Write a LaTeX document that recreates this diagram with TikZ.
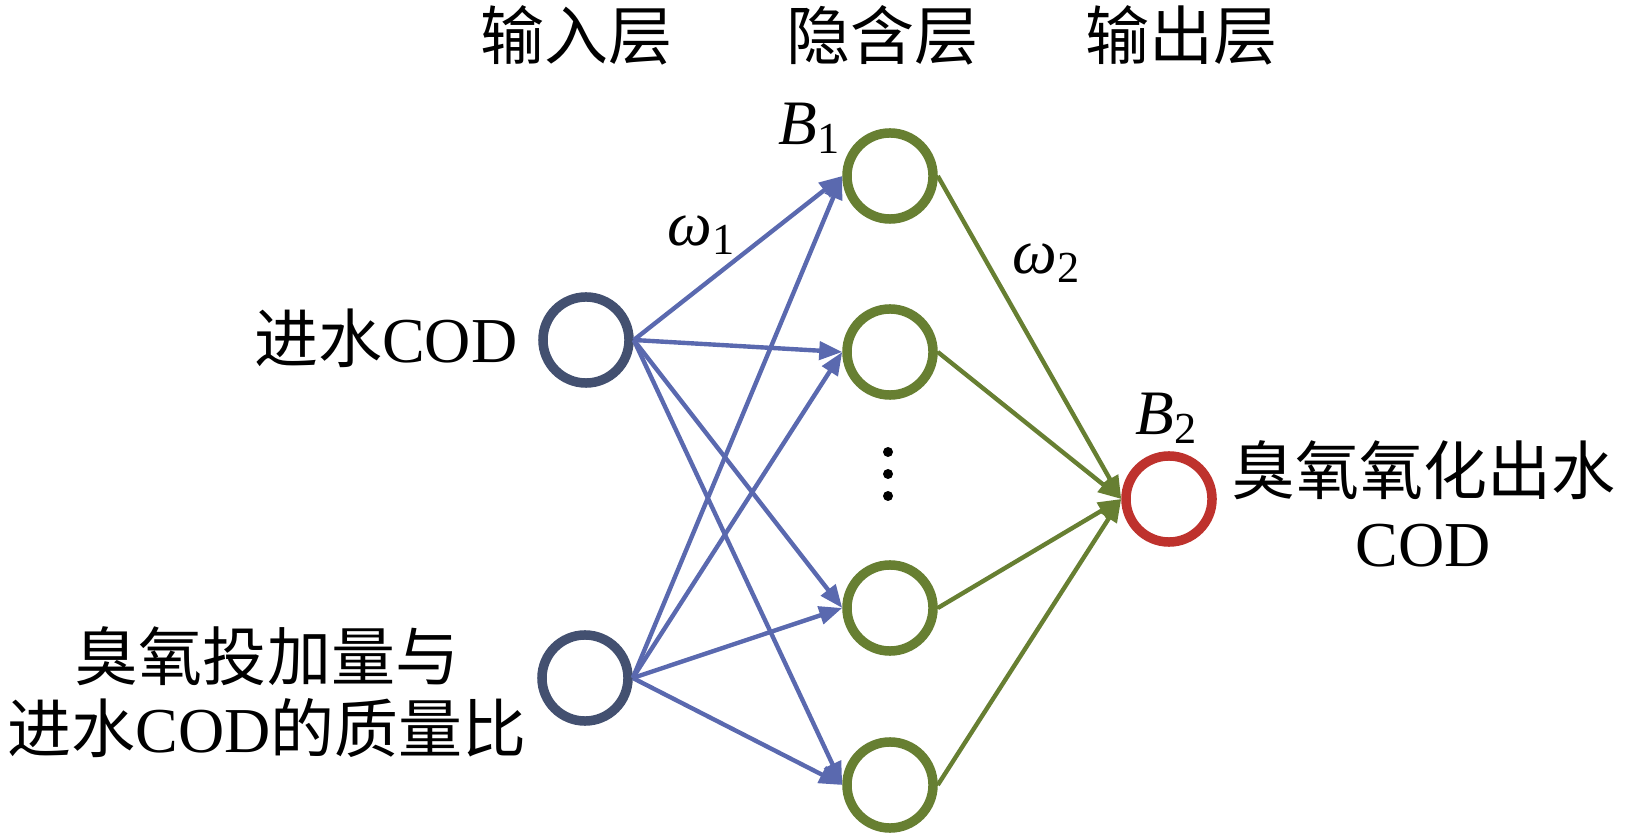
\documentclass[tikz,border=0pt]{standalone}
\usepackage{fontspec}
\usepackage{tikz}
\usetikzlibrary{arrows.meta}
\setmainfont{Liberation Serif}
\newfontfamily\cjk{Noto Sans CJK SC}
\definecolor{indark}{RGB}{67,80,112}
\definecolor{wblue}{RGB}{90,105,175}
\definecolor{hgreen}{RGB}{103,127,50}
\definecolor{outred}{RGB}{190,50,45}
\newcommand{\blab}[1]{\textit{B}\textsubscript{#1}}
\newcommand{\wlab}[1]{\textit{ω}\textsubscript{#1}}

\begin{document}
\begin{tikzpicture}[x=0.01cm,y=-0.01cm,
        neuron/.style={circle,draw,line width=2.7pt,minimum size=0.86cm,inner sep=0pt},
        wire/.style={line width=1.25pt,-{Triangle[length=0.23cm,width=0.18cm]}},
        lbl/.style={font=\fontsize{18.2}{20.5}\selectfont,inner sep=0pt},
        mlbl/.style={font=\fontsize{18}{20}\selectfont,inner sep=0pt}]
        \useasboundingbox (0,0) rectangle (1625,834);
        % layer titles
        \node [lbl] (tin) at (576,35) {\cjk 输入层};
        \node [lbl] (thid) at (882,35) {\cjk 隐含层};
        \node [lbl] (tout) at (1181,35) {\cjk 输出层};
        % neurons
        \node [neuron,draw=indark] (in1) at (586,340) {};
        \node [neuron,draw=indark] (in2) at (585,678) {};
        \node [neuron,draw=hgreen] (h1) at (890,176) {};
        \node [neuron,draw=hgreen] (h2) at (890,352) {};
        \node [neuron,draw=hgreen] (h3) at (890,608) {};
        \node [neuron,draw=hgreen] (h4) at (890,785) {};
        \node [neuron,draw=outred] (out) at (1169,499) {};
        \fill (888,452) circle (5);
        \fill (888,474) circle (5);
        \fill (888,496) circle (5);
        % texts
        \node [lbl,anchor=east] (xin1) at (518,338) {{\cjk 进水}COD};
        \node [lbl,align=center] (xin2) at (267,692) {{\cjk 臭氧投加量与}\\{\cjk 进水}COD{\cjk 的质量比}};
        \node [lbl,align=center] (xout) at (1423,504) {{\cjk 臭氧氧化出水}\\COD};
        \node [mlbl] (b1) at (810,128) {\blab{1}};
        \node [mlbl] (b2) at (1167,418) {\blab{2}};
        \node [mlbl] (w1) at (702,235) {\wlab{1}};
        \node [mlbl] (w2) at (1047,263) {\wlab{2}};
        % input to hidden
        \draw [wire,wblue] (in1.east) -- (h1.west);
        \draw [wire,wblue] (in1.east) -- (h2.west);
        \draw [wire,wblue] (in1.east) -- (h3.west);
        \draw [wire,wblue] (in1.east) -- (h4.west);
        \draw [wire,wblue] (in2.east) -- (h1.west);
        \draw [wire,wblue] (in2.east) -- (h2.west);
        \draw [wire,wblue] (in2.east) -- (h3.west);
        \draw [wire,wblue] (in2.east) -- (h4.west);
        % hidden to output
        \draw [wire,hgreen] (h1.east) -- (out.west);
        \draw [wire,hgreen] (h2.east) -- (out.west);
        \draw [wire,hgreen] (h3.east) -- (out.west);
        \draw [wire,hgreen] (h4.east) -- (out.west);
    \end{tikzpicture}
\end{document}
